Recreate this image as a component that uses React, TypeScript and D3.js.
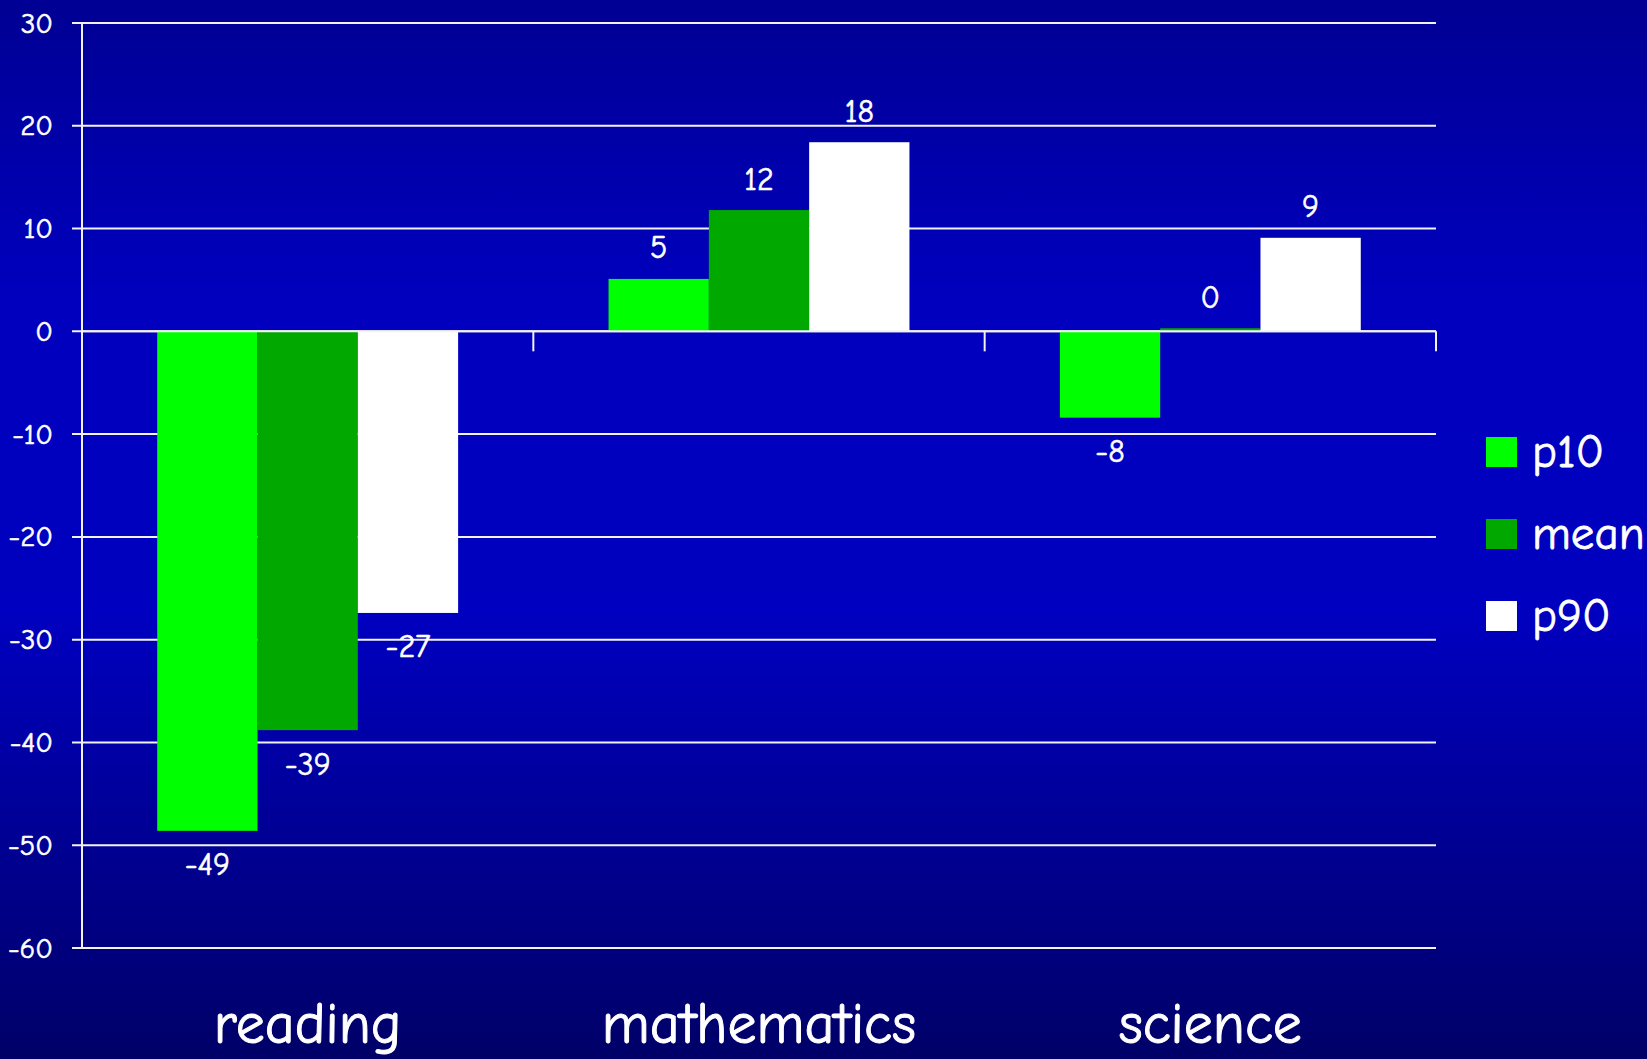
import React from "react";
import * as d3 from "d3";

// Score change by subject, for the 10th percentile, the mean and the 90th percentile
const categories = ["reading", "mathematics", "science"];
const seriesNames = ["p10", "mean", "p90"];
const p10Values = [-48.6, 5.1, -8.4];
const meanValues = [-38.8, 11.8, 0.3];
const p90Values = [-27.4, 18.4, 9.1];
const yTicks = [30, 20, 10, 0, -10, -20, -30, -40, -50, -60];
const seriesColors = ["#00FF00", "#00A800", "#FFFFFF"];

const W = 1647;
const H = 1059;
const FONT = "'Comic Sans MS', 'Comic Neue', 'Open Sans', sans-serif";

export default function App() {
  const series = [p10Values, meanValues, p90Values];
  const left = 82;
  const right = 1436;
  const top = 23;
  const bottom = 948;

  const x0 = d3.scaleBand<string>().domain(categories).range([left, right]).padding(0);
  const x1 = d3
    .scaleBand<string>()
    .domain(seriesNames)
    .range([0, x0.bandwidth()])
    .paddingInner(0)
    .paddingOuter(0.75);
  const y = d3.scaleLinear().domain([-60, 30]).range([bottom, top]);
  const y0 = y(0);

  const catTicks = categories.map((c) => (x0(c) as number) + x0.bandwidth());
  const textStroke = { stroke: "#FFFFFF", strokeWidth: 0.6 };

  return (
    <svg
      width={W}
      height={H}
      style={{ position: "absolute", left: 0, top: 0, display: "block" }}
      fontFamily={FONT}
    >
      <defs>
        <linearGradient id="bg" x1="0" y1="0" x2="0" y2="1">
          <stop offset="0%" stopColor="#000094" />
          <stop offset="28%" stopColor="#0000BE" />
          <stop offset="58%" stopColor="#0000C0" />
          <stop offset="100%" stopColor="#000068" />
        </linearGradient>
      </defs>
      <rect x={0} y={0} width={W} height={H} fill="url(#bg)" />

      {/* horizontal gridlines with left tick marks */}
      {yTicks.map((t) => (
        <g key={t}>
          <line x1={left - 10} x2={right} y1={y(t)} y2={y(t)} stroke="#F2F2F2" strokeWidth={2} />
          <text
            x={53}
            y={y(t)}
            fill="#FFFFFF"
            fontSize={29}
            textAnchor="end"
            dominantBaseline="central"
            {...textStroke}
          >
            {t}
          </text>
        </g>
      ))}

      {/* bars */}
      {categories.map((c, ci) => (
        <g key={c} transform={`translate(${x0(c)},0)`}>
          {seriesNames.map((s, si) => {
            const v = series[si][ci];
            const bx = x1(s) as number;
            const by = Math.min(y(v), y0);
            const bh = Math.abs(y(v) - y0);
            const labelY = v >= 0 ? y(v) - 31 : y(v) + 34;
            return (
              <g key={s}>
                <rect x={bx} y={by} width={x1.bandwidth()} height={bh} fill={seriesColors[si]} />
                <text
                  x={bx + x1.bandwidth() / 2}
                  y={labelY}
                  fill="#FFFFFF"
                  fontSize={32}
                  textAnchor="middle"
                  dominantBaseline="central"
                  {...textStroke}
                >
                  {Math.round(v)}
                </text>
              </g>
            );
          })}
        </g>
      ))}

      {/* axes */}
      <line x1={left} x2={left} y1={top} y2={bottom} stroke="#F2F2F2" strokeWidth={2} />
      <line x1={left} x2={right} y1={y0} y2={y0} stroke="#F2F2F2" strokeWidth={2} />
      {catTicks.map((tx, i) => (
        <line key={i} x1={tx} x2={tx} y1={y0} y2={y0 + 20} stroke="#F2F2F2" strokeWidth={2} />
      ))}

      {/* category labels */}
      {categories.map((c) => (
        <text
          key={c}
          x={(x0(c) as number) + x0.bandwidth() / 2}
          y={1043}
          fill="#FFFFFF"
          fontSize={58}
          textAnchor="middle"
          stroke="#FFFFFF"
          strokeWidth={1}
        >
          {c}
        </text>
      ))}

      {/* legend */}
      {seriesNames.map((s, i) => {
        const ly = 437 + i * 82;
        return (
          <g key={s}>
            <rect x={1486} y={ly} width={31} height={30} fill={seriesColors[i]} />
            <text
              x={1532}
              y={ly + 15}
              fill="#FFFFFF"
              fontSize={47}
              dominantBaseline="central"
              stroke="#FFFFFF"
              strokeWidth={0.8}
            >
              {s}
            </text>
          </g>
        );
      })}
    </svg>
  );
}
